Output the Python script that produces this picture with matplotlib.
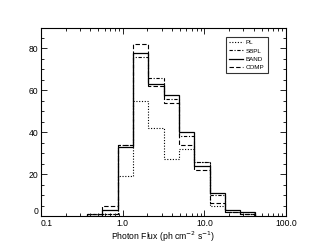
import numpy as np
import matplotlib
matplotlib.use("Agg")
from matplotlib import pyplot as plt
from matplotlib.ticker import MultipleLocator, FixedLocator, FixedFormatter, LogLocator

# bin edges (ph cm^-2 s^-1), log-spaced
edges = [0.365, 0.562, 0.866, 1.334, 2.054, 3.162, 4.870, 7.499, 11.55, 17.78, 27.38, 42.17]

# counts per bin for each spectral model
pl   = [1, 1, 19, 55, 42, 27, 32, 26, 5, 2, 1]
sbpl = [1, 1, 34, 76, 66, 56, 38, 26, 10, 2, 1]
band = [0, 3, 33, 78, 63, 58, 40, 24, 11, 3, 2]
comp = [1, 5, 34, 82, 62, 54, 34, 22, 6, 2, 1]

xticks = [0.1, 1.0, 10.0, 100.0]
xlabels = ['0.1', '1.0', '10.0', '100.0']
yticks = [0, 20, 40, 60, 80]
ylabels = ['0', '20', '40', '60', '80']

plt.rcParams['font.family'] = ['Liberation Sans', 'DejaVu Sans']

fig = plt.figure(figsize=(3.11, 2.49), dpi=100)
ax = fig.add_axes([0.132, 0.1325, 0.788, 0.757])

ax.stairs(pl, edges, color='black', linestyle=(0, (1, 1.5)), linewidth=0.8, label='PL')
ax.stairs(sbpl, edges, color='black', linestyle=(0, (3, 1.5, 1, 1.5)), linewidth=0.8, label='SBPL')
ax.stairs(band, edges, color='black', linestyle='-', linewidth=0.9, label='BAND')
ax.stairs(comp, edges, color='black', linestyle=(0, (4, 2)), linewidth=0.8, label='COMP')

ax.set_xscale('log')
ax.set_xlim(0.1, 100)
ax.set_ylim(0, 90)
ax.xaxis.set_major_locator(FixedLocator(xticks))
ax.xaxis.set_major_formatter(FixedFormatter(xlabels))
ax.xaxis.set_minor_locator(LogLocator(base=10, subs=np.arange(2, 10)))
ax.yaxis.set_major_locator(FixedLocator(yticks))
ax.yaxis.set_major_formatter(FixedFormatter(ylabels))
ax.yaxis.set_minor_locator(MultipleLocator(5))

ax.tick_params(which='both', direction='in', top=True, right=True, labelsize=6.2, width=0.6, pad=2)
ax.tick_params(which='major', length=4)
ax.tick_params(which='minor', length=2)
for s in ax.spines.values():
    s.set_linewidth(0.8)

ax.set_xlabel(r'Photon Flux (ph cm$^{-2}$ s$^{-1}$)', fontsize=6.2, labelpad=1)

leg = ax.legend(loc='upper right', fontsize=4.5, frameon=True, fancybox=False,
                edgecolor='black', handlelength=2.2, handletextpad=0.5, borderpad=0.5,
                labelspacing=0.45, borderaxespad=0, bbox_to_anchor=(0.925, 0.95))
leg.get_frame().set_linewidth(0.8)

# keep "0" and "0.1" from running into each other at the corner
fig.canvas.draw()
ax.get_yticklabels()[0].set_verticalalignment('bottom')
ax.get_xticklabels()[0].set_horizontalalignment('left')

fig.savefig('out.png', dpi=100)
